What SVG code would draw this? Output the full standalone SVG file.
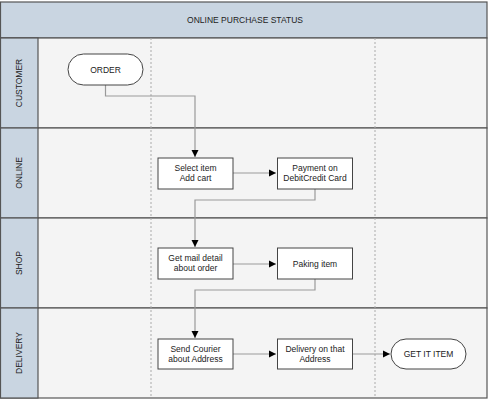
<svg xmlns="http://www.w3.org/2000/svg" width="490" height="401" viewBox="0 0 490 401">
<style>
text{font-family:"Liberation Sans",Arial,sans-serif;font-size:8.5px;fill:#222;text-anchor:middle}
.band{fill:#c9d5e1;stroke:#555;stroke-width:1.2}
.lane{fill:#f4f4f4;stroke:#555;stroke-width:1.2}
.box{fill:#fff;stroke:#444;stroke-width:1}
.conn{fill:none;stroke:#999;stroke-width:1.2}
.dot{stroke:#aaa;stroke-width:1;stroke-dasharray:2,2}
</style>
<defs>
<marker id="ah" markerWidth="8" markerHeight="8" refX="7" refY="4" orient="auto" markerUnits="userSpaceOnUse">
<path d="M0,0.5 L7,4 L0,7.5 Z" fill="#000"/>
</marker>
</defs>
<rect x="0" y="0" width="490" height="401" fill="#fff"/>
<g id="title">
<rect class="band" x="0.5" y="2" width="486.5" height="36"/>
<text x="245" y="23">ONLINE PURCHASE STATUS</text>
</g>
<g id="lanes">
<rect class="lane" x="0.5" y="38" width="486.5" height="90"/>
<rect class="lane" x="0.5" y="128" width="486.5" height="90"/>
<rect class="lane" x="0.5" y="218" width="486.5" height="90"/>
<rect class="lane" x="0.5" y="308" width="486.5" height="90"/>
<rect class="band" x="0.5" y="38" width="37.5" height="90"/>
<rect class="band" x="0.5" y="128" width="37.5" height="90"/>
<rect class="band" x="0.5" y="218" width="37.5" height="90"/>
<rect class="band" x="0.5" y="308" width="37.5" height="90"/>
<text transform="translate(22,83) rotate(-90)">CUSTOMER</text>
<text transform="translate(22,173) rotate(-90)">ONLINE</text>
<text transform="translate(22,263) rotate(-90)">SHOP</text>
<text transform="translate(22,353) rotate(-90)">DELIVERY</text>
<line class="dot" x1="151" y1="38" x2="151" y2="398"/>
<line class="dot" x1="375" y1="38" x2="375" y2="398"/>
</g>
<g id="connectors">
<path class="conn" d="M105.5,85 V96 H195 V157" marker-end="url(#ah)"/>
<path class="conn" d="M233,173 H276" marker-end="url(#ah)"/>
<path class="conn" d="M315,189 V200 H195 V247" marker-end="url(#ah)"/>
<path class="conn" d="M233,264 H276" marker-end="url(#ah)"/>
<path class="conn" d="M315,279 V290 H195 V338" marker-end="url(#ah)"/>
<path class="conn" d="M233,354 H276" marker-end="url(#ah)"/>
<path class="conn" d="M353,354 H390" marker-end="url(#ah)"/>
</g>
<g id="order">
<rect class="box" x="68" y="54" width="75" height="31" rx="15.5"/>
<text x="105.5" y="73">ORDER</text>
</g>
<g id="select">
<rect class="box" x="158" y="158" width="75" height="31"/>
<text x="195.5" y="171">Select item</text>
<text x="195.5" y="181">Add cart</text>
</g>
<g id="payment">
<rect class="box" x="277.5" y="158" width="75" height="31"/>
<text x="315" y="171">Payment on</text>
<text x="315" y="181">DebitCredit Card</text>
</g>
<g id="getmail">
<rect class="box" x="158" y="248" width="75" height="31"/>
<text x="195.5" y="261">Get mail detail</text>
<text x="195.5" y="271">about order</text>
</g>
<g id="paking">
<rect class="box" x="277.5" y="248" width="75" height="31"/>
<text x="315" y="267">Paking item</text>
</g>
<g id="send">
<rect class="box" x="158" y="339" width="75" height="30"/>
<text x="195.5" y="352">Send Courier</text>
<text x="195.5" y="362">about Address</text>
</g>
<g id="delivery">
<rect class="box" x="277.5" y="339" width="75" height="30"/>
<text x="315" y="352">Delivery on that</text>
<text x="315" y="362">Address</text>
</g>
<g id="getit">
<rect class="box" x="391" y="339" width="75" height="30" rx="15"/>
<text x="428.5" y="357">GET IT ITEM</text>
</g>
</svg>
